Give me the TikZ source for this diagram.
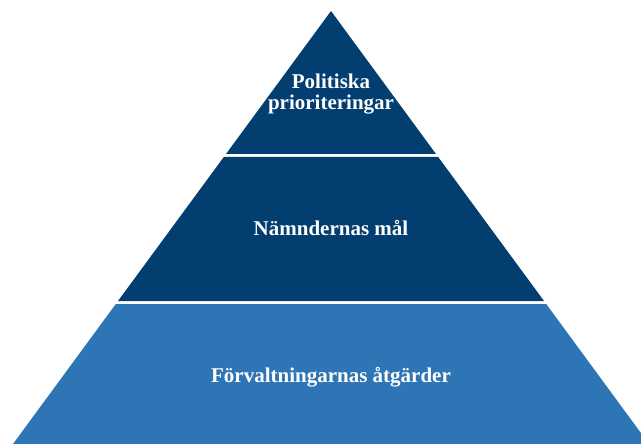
\documentclass[tikz,border=0pt]{standalone}
\usepackage{fontspec}
\setmainfont{Liberation Serif}
\definecolor{darkblue}{RGB}{2,62,111}
\definecolor{lightblue}{RGB}{46,117,182}
\tikzset{
  band/.style={line width=0pt},
  label/.style={text=white, font=\bfseries\fontsize{21}{21}\selectfont, align=center, inner sep=0pt},
}
\begin{document}
\begin{tikzpicture}[x=1pt,y=-1pt]
\useasboundingbox (0,0) rectangle (641,444);
\clip (0,0) rectangle (641,444);
% top band
\fill[darkblue, band] (331,11) -- (436,154) -- (226,154) -- cycle;
% middle band
\fill[darkblue, band] (223.8,157) -- (438.2,157) -- (544,301) -- (118,301) -- cycle;
% bottom band
\fill[lightblue, band] (115.8,304) -- (546.2,304) -- (649,444) -- (13,444) -- cycle;
\node[label, anchor=base] (top) at (331,110) {Politiska\\prioriteringar};
\node[label, anchor=base] (mid) at (331,236) {Nämndernas mål};
\node[label, anchor=base] (bot) at (331,382) {Förvaltningarnas åtgärder};
\end{tikzpicture}
\end{document}
